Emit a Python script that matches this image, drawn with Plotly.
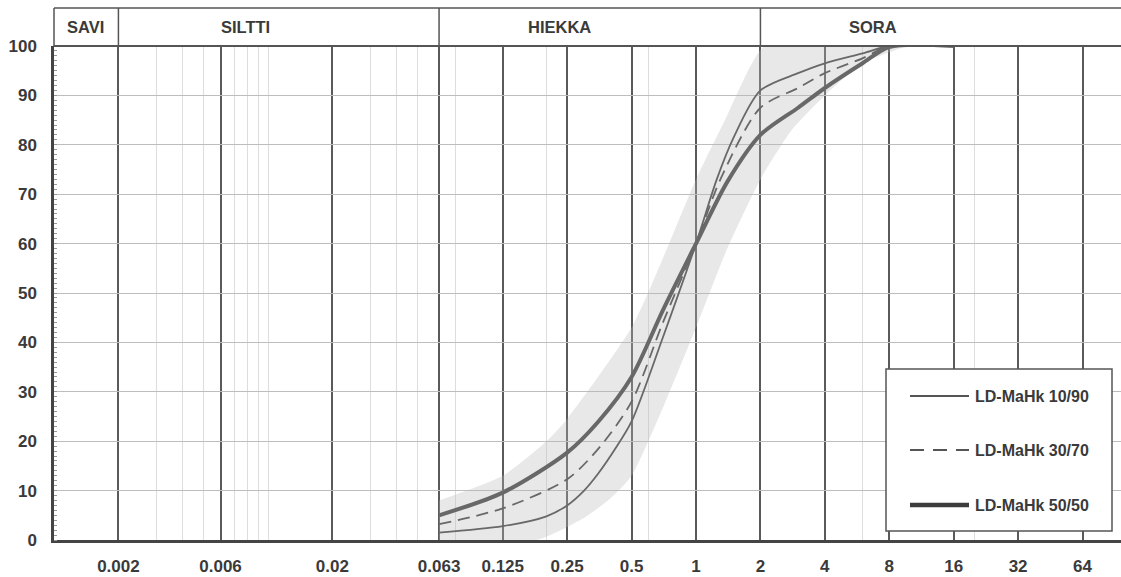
import math
import plotly.graph_objects as go

# ---------------- data ----------------
tick_sizes = [0.002, 0.006, 0.02, 0.063, 0.125, 0.25, 0.5, 1, 2, 4, 8, 16, 32, 64]
tick_labels = ["0.002", "0.006", "0.02", "0.063", "0.125", "0.25", "0.5", "1", "2", "4", "8", "16", "32", "64"]
minor_sizes = [0.003, 0.004, 0.005, 0.007, 0.008, 0.009, 0.01, 0.03, 0.04, 0.05, 0.075, 0.2, 0.6, 6, 20]
y_ticks = [0, 10, 20, 30, 40, 50, 60, 70, 80, 90, 100]

fraction_names = ["SAVI", "SILTTI", "HIEKKA", "SORA"]
fraction_bounds = [0.002, 0.063, 2]
fraction_label_x = [0.00141, 0.00781, 0.229, 6.71]

series_names = ["LD-MaHk 10/90", "LD-MaHk 30/70", "LD-MaHk 50/50"]

size_10_90 = [0.063, 0.125, 0.2, 0.25, 0.3, 0.35, 0.42, 0.5, 0.7, 1, 1.25, 1.5, 2, 3, 4, 6, 8, 16]
pass_10_90 = [1.5, 2.8, 4.8, 7.0, 10.0, 13.5, 18.5, 24, 41, 60, 73, 81.5, 91, 94.5, 96.5, 98.5, 100, 100]

size_30_70 = [0.063, 0.125, 0.25, 0.35, 0.5, 0.7, 1, 1.3, 2, 3, 4, 6, 8, 16]
pass_30_70 = [3.2, 6.4, 12.3, 18.5, 28, 44, 60, 73, 87.5, 91.5, 94.5, 97.5, 100, 100]

size_50_50 = [0.063, 0.125, 0.25, 0.35, 0.5, 0.7, 1, 1.4, 2, 3, 4, 6, 8, 16]
pass_50_50 = [5.0, 9.6, 17.7, 24.0, 33, 46.5, 60, 72.5, 82, 87.5, 91.5, 96.5, 99.8, 100]

band_upper_size = [0.063, 0.125, 0.2, 0.25, 0.5, 0.7, 1, 1.4, 1.8, 2.1, 9.7]
band_upper_pass = [8, 13, 20, 24.5, 43, 57, 73, 86, 96, 100, 100]
band_lower_size = [9.7, 6, 4, 2.8, 2, 1.4, 1, 0.72, 0.5, 0.4, 0.3, 0.18, 0.063]
band_lower_pass = [100, 96.5, 90, 83, 73, 59, 43, 28, 13, 8.5, 4.5, 0, 0]

# ---------------- styling ----------------
FONT = "Liberation Sans, Arial, sans-serif"
TXT = "#3a3a3a"
CURVE = "#686868"
W, H = 1121, 577
ML, MR, MT, MB = 54, 0, 8, 37
PW, PH = W - ML - MR, H - MT - MB
Y_TOP = 494 / PH  # top of y-axis domain (paper)

fig = go.Figure()

# envelope band
fig.add_trace(go.Scatter(
    x=band_upper_size + band_lower_size,
    y=band_upper_pass + band_lower_pass,
    fill="toself", mode="lines", line=dict(width=0, shape="spline", smoothing=0.6),
    fillcolor="rgba(185,185,185,0.33)", hoverinfo="skip", showlegend=False))

styles = [
    dict(color=CURVE, width=1.8, dash="solid"),
    dict(color=CURVE, width=1.8, dash="12px,7px"),
    dict(color=CURVE, width=4.0, dash="solid"),
]
for name, xs, ys, st in zip(series_names,
                            [size_10_90, size_30_70, size_50_50],
                            [pass_10_90, pass_30_70, pass_50_50], styles):
    fig.add_trace(go.Scatter(x=xs, y=ys, name=name, mode="lines",
                             line=dict(shape="spline", smoothing=0.8, **st),
                             showlegend=False))

shapes = []
# header box
shapes.append(dict(type="line", xref="paper", yref="paper", x0=0, x1=1, y0=1, y1=1,
                   line=dict(color="#555", width=1.5), layer="above"))
shapes.append(dict(type="line", xref="paper", yref="paper", x0=0, x1=1, y0=Y_TOP, y1=Y_TOP,
                   line=dict(color="#555", width=2), layer="above"))
shapes.append(dict(type="line", xref="paper", yref="paper", x0=0, x1=0, y0=Y_TOP, y1=1,
                   line=dict(color="#555", width=1.5), layer="above"))
for b in fraction_bounds:
    shapes.append(dict(type="line", xref="x", yref="paper", x0=b, x1=b, y0=Y_TOP, y1=1,
                       line=dict(color="#555", width=1.5), layer="above"))

annotations = []
for name, xv in zip(fraction_names, fraction_label_x):
    annotations.append(dict(text="<b>%s</b>" % name, x=math.log10(xv), xref="x",
                            y=(Y_TOP + 1) / 2, yref="paper",
                            showarrow=False, xanchor="center", yanchor="middle",
                            font=dict(family=FONT, size=16.5, color=TXT)))

# legend box (drawn manually to match sample length/spacing)
def px_x(p):
    return (p - ML) / PW

def px_y(p):
    return (H - MB - p) / PH

shapes.append(dict(type="rect", xref="paper", yref="paper",
                   x0=px_x(886), x1=px_x(1112), y0=px_y(531), y1=px_y(369),
                   fillcolor="white", line=dict(color="#555", width=1.5), layer="above"))
leg_y = [396, 450, 505]
leg_styles = [
    dict(color="#555", width=2, dash="solid"),
    dict(color="#555", width=2, dash="14px,9px"),
    dict(color="#3c3c3c", width=4.5, dash="solid"),
]
for name, yy, st in zip(series_names, leg_y, leg_styles):
    shapes.append(dict(type="line", xref="paper", yref="paper",
                       x0=px_x(910), x1=px_x(969), y0=px_y(yy), y1=px_y(yy),
                       line=st, layer="above"))
    annotations.append(dict(text="<b>%s</b>" % name, x=px_x(973), xref="paper", y=px_y(yy), yref="paper",
                            showarrow=False, xanchor="left", yanchor="middle",
                            font=dict(family=FONT, size=16, color=TXT)))

fig.update_layout(
    width=W, height=H,
    margin=dict(l=ML, r=MR, t=MT, b=MB, pad=0),
    paper_bgcolor="white", plot_bgcolor="white",
    shapes=shapes, annotations=annotations,
    showlegend=False,
    xaxis=dict(type="log", range=[-3, 1.986], tickmode="array",
               tickvals=tick_sizes, ticktext=["<b>%s</b>" % t for t in tick_labels],
               showgrid=True, gridcolor="#5a5a5a", gridwidth=1.6,
               minor=dict(tickmode="array", tickvals=minor_sizes, showgrid=True,
                          gridcolor="#dddddd", gridwidth=1, ticks=""),
               ticks="", showline=True, linecolor="#444", linewidth=2.5,
               zeroline=False, ticklabelstandoff=9,
               tickfont=dict(family=FONT, size=17, color=TXT)),
    yaxis=dict(range=[0, 100], domain=[0, Y_TOP], tickmode="array", tickvals=y_ticks,
               ticktext=["<b>%d</b>" % v for v in y_ticks],
               showgrid=True, gridcolor="#bdbdbd", gridwidth=1,
               ticks="", showline=True, linecolor="#444", linewidth=2.5,
               zeroline=False, ticklabelstandoff=11,
               minor=dict(dtick=1, ticks="inside", ticklen=3, tickcolor="#999", showgrid=False),
               tickfont=dict(family=FONT, size=17, color=TXT)),
)

fig.write_html("out.html")
